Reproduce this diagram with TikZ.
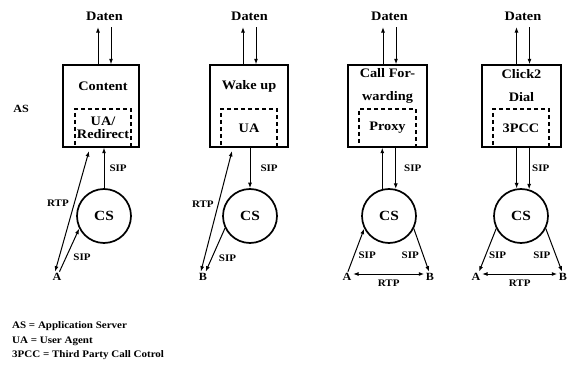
\documentclass[tikz,border=0pt]{standalone}
\usepackage{fontspec}
\setmainfont{Liberation Serif}[FakeStretch=1.1]
\usepackage{tikz}
\usetikzlibrary{arrows.meta,positioning}

\begin{document}
\begin{tikzpicture}[x=1pt, y=-1pt, font=\bfseries\fontsize{13}{13}\selectfont,
  asbox/.style={draw, line width=1.4pt, inner sep=0pt},
  uabox/.style={draw, line width=1.2pt, dash pattern=on 4pt off 3pt, inner sep=0pt, align=center, minimum width=56pt, minimum height=38pt},
  daten/.style={inner xsep=0pt, inner ysep=6.5pt},
  csnode/.style={draw, circle, line width=1.7pt, minimum size=54pt, inner sep=0pt, font=\bfseries\fontsize{14}{14}\selectfont},
  ep/.style={inner sep=1.5pt, font=\bfseries\fontsize{11}{11}\selectfont},
  lab/.style={inner sep=1pt, font=\bfseries\fontsize{10}{10}\selectfont},
  arr/.style={line width=1pt, -{Latex[length=5.5pt,width=4pt]}},
  darr/.style={line width=1pt, {Latex[length=5.5pt,width=4pt]}-{Latex[length=5.5pt,width=4pt]}}]
\useasboundingbox (0,0) rectangle (567,374);
\foreach \n/\bx/\bw/\dx in {1/101/76/104.5, 2/249/78/249.5, 3/387.5/79/389.5, 4/521.5/79/523} {
  \node[asbox, minimum width={\bw pt}, minimum height=82pt] (box\n) at (\bx,106) {};
  \node[daten] (daten\n) at (\dx,16) {Daten};
  \draw[arr] ([xshift=-6.5pt]daten\n.south |- box\n.north) -- ([xshift=-6.5pt]daten\n.south);
  \draw[arr] ([xshift=6.5pt]daten\n.south) -- ([xshift=6.5pt]daten\n.south |- box\n.north);
}
\node (title1) at (103,86) {Content};
\node (title2) at (249,86) {Wake up};
\node[align=center, font=\bfseries\fontsize{13}{23}\selectfont] (title3) at (387.5,85.5) {Call For-\\warding};
\node[align=center, font=\bfseries\fontsize{13}{23}\selectfont] (title4) at (521.5,85.5) {Click2\\Dial};
\node[uabox, font=\bfseries\fontsize{13}{12.7}\selectfont] (ua1) at (103,128) {UA/\\Redirect};
\node[uabox] (ua2) at (249,128) {UA};
\node[uabox, minimum width=57pt] (ua3) at (387.5,128) {Proxy};
\node[uabox] (ua4) at (521,128) {3PCC};
\node[ep] (as) at (21,109) {AS};
\node[csnode] (cs1) at (104,216) {CS};
\node[csnode] (cs2) at (250,216) {CS};
\node[csnode] (cs3) at (389,216) {CS};
\node[csnode] (cs4) at (521,216) {CS};
\node[ep] (a1) at (57,277) {A};
\node[ep] (b2) at (203,277) {B};
\node[ep] (a3) at (347,277) {A};
\node[ep] (b3) at (430,277) {B};
\node[ep] (a4) at (476,277) {A};
\node[ep] (b4) at (563,277) {B};
\coordinate (rtp1) at (89,151);
\coordinate (rtp2) at (232,151);
\draw[arr] (cs1.north) -- (cs1.north |- box1.south) node[lab, midway, right=4pt] {SIP};
\draw[darr] (a1.110) -- (rtp1) node[lab, pos=0.567, left=4pt] {RTP};
\draw[arr] (a1.65) -- (cs1.207) node[lab, pos=0.33, right=6pt] {SIP};
\draw[arr] (cs2.north |- box2.south) -- (cs2.north) node[lab, midway, right=9pt] {SIP};
\draw[darr] (b2.112) -- (rtp2) node[lab, pos=0.556, left=3pt] {RTP};
\draw[arr] (cs2.206) -- (b2.63) node[lab, pos=0.7, right=6pt] {SIP};
\draw[arr] (cs3.104) -- (cs3.104 |- box3.south);
\draw[arr] (cs3.76 |- box3.south) -- (cs3.76) node[lab, midway, right=7pt] {SIP};
\draw[arr] (a3.80) -- (cs3.207) node[lab, pos=0.38, right=3pt] {SIP};
\draw[arr] (cs3.333) -- (b3.100) node[lab, pos=0.62, left=3pt] {SIP};
\draw[darr] ([yshift=3pt]a3.east) -- ([yshift=3pt]b3.west) node[lab, midway, below=4pt] {RTP};
\draw[arr] (cs4.99 |- box4.south) -- (cs4.99);
\draw[arr] (cs4.73 |- box4.south) -- (cs4.73) node[lab, midway, right=1.5pt] {SIP};
\draw[arr] (cs4.207) -- (a4.60) node[lab, pos=0.62, right=2pt] {SIP};
\draw[arr] (cs4.333) -- (b4.100) node[lab, pos=0.62, left=4pt] {SIP};
\draw[darr] ([yshift=3pt]a4.east) -- ([yshift=3pt]b4.west) node[lab, midway, below=4pt] {RTP};
\node[anchor=north west, align=left, inner sep=0pt, font=\bfseries\fontsize{10}{14.5}\selectfont] (legend) at (12,321.5) {AS = Application Server\\UA = User Agent\\3PCC = Third Party Call Cotrol};
\end{tikzpicture}
\end{document}
